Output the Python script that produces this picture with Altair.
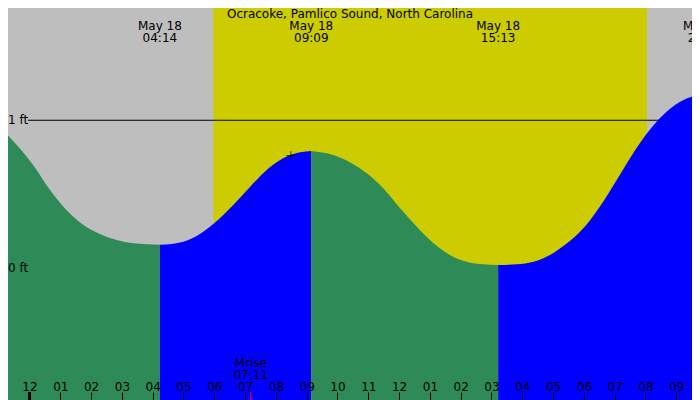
import altair as alt
import pandas as pd

TITLE = "Ocracoke, Pamlico Sound, North Carolina"

# tide height in feet
TIDE_TIMES = [
    "2024-05-17 23:03", "2024-05-18 00:07", "2024-05-18 00:40", "2024-05-18 01:12",
    "2024-05-18 01:45", "2024-05-18 02:17", "2024-05-18 02:50", "2024-05-18 03:22",
    "2024-05-18 04:14", "2024-05-18 05:00", "2024-05-18 05:32", "2024-05-18 05:58",
    "2024-05-18 06:37", "2024-05-18 07:10", "2024-05-18 07:42", "2024-05-18 08:14",
    "2024-05-18 08:47", "2024-05-18 09:09", "2024-05-18 09:52", "2024-05-18 10:24",
    "2024-05-18 10:57", "2024-05-18 11:29", "2024-05-18 12:02", "2024-05-18 12:34",
    "2024-05-18 13:07", "2024-05-18 13:39", "2024-05-18 14:11", "2024-05-18 14:44",
    "2024-05-18 15:13", "2024-05-18 15:49", "2024-05-18 16:22", "2024-05-18 16:54",
    "2024-05-18 17:27", "2024-05-18 17:59", "2024-05-18 18:31", "2024-05-18 19:04",
    "2024-05-18 19:36", "2024-05-18 20:08", "2024-05-18 20:41", "2024-05-18 21:14",
    "2024-05-18 21:46",
]
TIDE_FT = [
    0.950, 0.697, 0.527, 0.391,
    0.289, 0.228, 0.187, 0.165,
    0.155, 0.176, 0.228, 0.296,
    0.425, 0.549, 0.663, 0.742,
    0.783, 0.792, 0.764, 0.715,
    0.640, 0.538, 0.402, 0.278,
    0.165, 0.086, 0.040, 0.022,
    0.018, 0.022, 0.040, 0.086,
    0.165, 0.267, 0.413, 0.595,
    0.776, 0.934, 1.058, 1.138,
    1.172,
]

# high / low tide turning points and their labels
TURN_TIMES = ["2024-05-18 04:14", "2024-05-18 09:09", "2024-05-18 15:13", "2024-05-18 21:56"]
TURN_LABELS = ["May 18\n04:14", "May 18\n09:09", "May 18\n15:13", "May 18\n21:56"]

SUNRISE = "2024-05-18 05:58"
SUNSET = "2024-05-18 20:03"
MOONRISE = "2024-05-18 07:11"
MOONRISE_LABEL = "Mrise\n07:11"
MIDNIGHT = "2024-05-18 00:00"
MARK_TIME = "2024-05-18 08:29"
MARK_FT = 0.76

# window shown and hour ticks (hours from midnight May 18)
X_START, X_END = "2024-05-17 23:18:07", "2024-05-18 21:30:36"
HOUR_TICKS = list(range(-1, 22))

FT_LEVELS = [0, 1]
FT_LABELS = ["0 ft", "1 ft"]

GRAY = "#bebebe"
YELLOW = "#cccc00"
GREEN = "#2e8b57"
BLUE = "#0000ff"
FONT = "DejaVu Sans"

W, H = 684, 392
Y_MIN, Y_MAX = -0.899, 1.762

origin = pd.Timestamp(MIDNIGHT)


def hours(stamps):
    return [(pd.Timestamp(s) - origin) / pd.Timedelta(hours=1) for s in stamps]


# split the curve into falling / rising pieces at each turn
turns = hours(TURN_TIMES[:3])
rows = []
for h, ft in zip(hours(TIDE_TIMES), TIDE_FT):
    seg = sum(1 for k in turns if k < h)
    rows.append({"h": h, "ft": ft, "seg": seg})
    if h in turns:
        rows.append({"h": h, "ft": ft, "seg": seg + 1})
tide = pd.DataFrame(rows)
tide["phase"] = ["falling" if s % 2 == 0 else "rising" for s in tide["seg"]]

x_scale = alt.Scale(domain=hours([X_START, X_END]), nice=False, zero=False)
y_scale = alt.Scale(domain=[Y_MIN, Y_MAX], nice=False)

x_axis = alt.Axis(
    orient="top",
    offset=-H,
    values=HOUR_TICKS,
    labelExpr="pad((datum.value % 12 + 12) % 12 == 0 ? 12 : (datum.value % 12 + 12) % 12, 2, '0', 'left')",
    title="",
    domain=False,
    grid=False,
    tickSize=8,
    tickColor="black",
    labelPadding=2,
    labelBaseline="alphabetic",
    labelFont=FONT,
    labelFontSize=12,
    labelColor="black",
    labelFlush=False,
    labelOverlap=False,
    zindex=1,
)


def xq(field):
    return alt.X(field, type="quantitative", scale=x_scale, axis=x_axis)


sun = pd.DataFrame({"rise": hours([SUNRISE]), "set": hours([SUNSET])})
daylight = (
    alt.Chart(sun)
    .mark_rect(color=YELLOW)
    .encode(x=xq("rise"), x2="set", y=alt.value(0), y2=alt.value(H))
)

one_ft = (
    alt.Chart(pd.DataFrame({"ft": [1]}))
    .mark_rule(color="black", strokeWidth=1)
    .encode(y=alt.Y("ft:Q", scale=y_scale, axis=None), x=alt.value(20), x2=alt.value(W))
)

water = (
    alt.Chart(tide)
    .mark_area(interpolate="monotone", clip=True)
    .encode(
        x=xq("h"),
        y=alt.Y("ft:Q", scale=y_scale, axis=None, stack=False),
        y2=alt.datum(Y_MIN),
        color=alt.Color(
            "phase:N",
            scale=alt.Scale(domain=["falling", "rising"], range=[GREEN, BLUE]),
            legend=None,
        ),
        detail="seg:N",
    )
)

midnight = (
    alt.Chart(pd.DataFrame({"h": hours([MIDNIGHT])}))
    .mark_rule(color="black", strokeWidth=3)
    .encode(x=xq("h"), y=alt.value(H - 8), y2=alt.value(H))
)

moon = pd.DataFrame({"h": hours([MOONRISE]), "label": [MOONRISE_LABEL]})
moon_tick = (
    alt.Chart(moon)
    .mark_rule(color="#ff0000", strokeWidth=1)
    .encode(x=xq("h"), y=alt.value(H - 8), y2=alt.value(H))
)
moon_text = (
    alt.Chart(moon)
    .mark_text(font=FONT, fontSize=12, color="black", lineBreak="\n", lineHeight=11.5,
               baseline="alphabetic", align="center")
    .encode(x=xq("h"), y=alt.value(359), text="label:N")
)

turn_df = pd.DataFrame({"h": hours(TURN_TIMES), "label": TURN_LABELS})
turn_text = (
    alt.Chart(turn_df)
    .mark_text(font=FONT, fontSize=12, color="black", lineBreak="\n", lineHeight=12,
               baseline="alphabetic", align="center")
    .encode(x=xq("h"), y=alt.value(22), text="label:N")
)

title = (
    alt.Chart(pd.DataFrame({"label": [TITLE]}))
    .mark_text(font=FONT, fontSize=12, color="black", baseline="alphabetic", align="center")
    .encode(x=alt.value(342), y=alt.value(10), text="label:N")
)

ft_text = (
    alt.Chart(pd.DataFrame({"ft": FT_LEVELS, "label": FT_LABELS}))
    .mark_text(font=FONT, fontSize=12, color="black", baseline="middle", align="left")
    .encode(x=alt.value(0), y=alt.Y("ft:Q", scale=y_scale, axis=None), text="label:N")
)

mark = (
    alt.Chart(pd.DataFrame({"h": hours([MARK_TIME]), "ft": [MARK_FT]}))
    .mark_point(shape="M-1,0L1,0M0,-1L0,1", size=81, color="black", strokeWidth=1, filled=False)
    .encode(x=xq("h"), y=alt.Y("ft:Q", scale=y_scale, axis=None))
)

chart = (
    alt.layer(daylight, one_ft, water, midnight, moon_tick, moon_text, turn_text, title, ft_text, mark)
    .properties(width=W, height=H, autosize=alt.AutoSizeParams(type="none"), padding=0,
                background=GRAY)
    .configure_view(strokeWidth=0)
)

chart.save("out.html", embed_options={"renderer": "svg", "actions": False})
